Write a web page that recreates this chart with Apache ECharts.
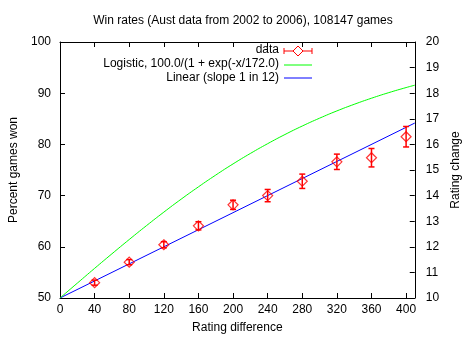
<!DOCTYPE html>
<html>
<head>
<meta charset="utf-8">
<script src="https://cdn.jsdelivr.net/npm/echarts@6/dist/echarts.min.js"></script>
<style>
  html, body { margin: 0; padding: 0; background: #fff; }
  #chart { width: 470px; height: 341px; }
</style>
</head>
<body>
<div id="chart"></div>
<script>
// Rating difference of each measured bucket
var ratingDiff = [40, 80, 120, 160, 200, 240, 280, 320, 360, 400];
// Observed win percentage per bucket
var winPct = [53.0, 57.0, 60.4, 64.1, 68.2, 70.0, 72.8, 76.6, 77.4, 81.5];
// Half-length of each error bar, in percent
var winErr = [0.5, 0.5, 0.6, 0.8, 0.9, 1.2, 1.4, 1.5, 1.8, 2.0];

// Logistic curve samples, 100/(1+exp(-x/172))
var logisticX = [0, 20, 40, 60, 80, 100, 120, 140, 160, 180, 200, 220, 240, 260, 280, 300, 320, 340, 360, 380, 400, 410];
var logisticY = [50.0, 52.9, 55.79, 58.63, 61.42, 64.14, 66.77, 69.30, 71.71, 74.01, 76.19, 78.23, 80.14, 81.93, 83.59, 85.12, 86.54, 87.83, 89.02, 90.11, 91.10, 91.56];

// Linear line, slope 1 in 12
var linearX = [0, 410];
var linearY = [50.0, 84.17];

var legendNames = ['data', 'Logistic, 100.0/(1 + exp(-x/172.0)', 'Linear (slope 1 in 12)'];

var FONT = '"Liberation Sans", Arial, sans-serif';
var RED = '#ff0000', GREEN = '#00ff00', BLUE = '#0000ff';

function zip(a, b) { return a.map(function (v, i) { return [v, b[i]]; }); }

var chart = echarts.init(document.getElementById('chart'), null, { renderer: 'canvas' });

var tickStyle = { show: true, inside: true, length: 5, lineStyle: { color: '#000', width: 1 } };
var labelStyle = { color: '#000', fontSize: 12, fontFamily: FONT };

var option = {
  animation: false,
  backgroundColor: '#fff',
  title: {
    text: 'Win rates (Aust data from 2002 to 2006), 108147 games',
    left: 238, top: 10, textAlign: 'center',
    textStyle: { fontSize: 12, fontWeight: 'normal', color: '#000', fontFamily: FONT }
  },
  grid: { left: 60, right: 52, top: 42, bottom: 43, containLabel: false },
  xAxis: [{
    type: 'value', min: 0, max: 410, interval: 40, position: 'bottom',
    name: 'Rating difference', nameLocation: 'middle', nameGap: 24,
    nameTextStyle: labelStyle,
    axisLine: { show: true, onZero: false, lineStyle: { color: '#000', width: 1 } },
    axisTick: tickStyle,
    axisLabel: Object.assign({ margin: 6, showMaxLabel: false }, labelStyle),
    splitLine: { show: false }
  }, {
    type: 'value', min: 0, max: 410, interval: 40, position: 'top',
    axisLine: { show: true, onZero: false, lineStyle: { color: '#000', width: 1 } },
    axisTick: tickStyle,
    axisLabel: { show: false },
    splitLine: { show: false }
  }],
  yAxis: [{
    type: 'value', min: 50, max: 100, interval: 10, position: 'left',
    name: 'Percent games won', nameLocation: 'middle', nameGap: 36, nameRotate: 90,
    nameTextStyle: labelStyle,
    axisLine: { show: true, onZero: false, lineStyle: { color: '#000', width: 1 } },
    axisTick: tickStyle,
    axisLabel: Object.assign({ margin: 9 }, labelStyle),
    splitLine: { show: false }
  }, {
    type: 'value', min: 10, max: 20, interval: 1, position: 'right',
    name: 'Rating change', nameLocation: 'middle', nameGap: 33, nameRotate: 90,
    nameTextStyle: labelStyle,
    axisLine: { show: true, onZero: false, lineStyle: { color: '#000', width: 1 } },
    axisTick: tickStyle,
    axisLabel: Object.assign({ margin: 11 }, labelStyle),
    splitLine: { show: false }
  }],
  series: [{
    name: legendNames[2], type: 'line', data: zip(linearX, linearY),
    showSymbol: false, symbol: 'none',
    lineStyle: { color: BLUE, width: 1 }, z: 2
  }, {
    name: legendNames[1], type: 'line', data: zip(logisticX, logisticY),
    showSymbol: false, symbol: 'none', smooth: true,
    lineStyle: { color: GREEN, width: 1 }, z: 2
  }, {
    name: 'errorbars', type: 'custom',
    data: ratingDiff.map(function (x, i) { return [x, winPct[i], winErr[i]]; }),
    renderItem: function (params, api) {
      var x = api.value(0), y = api.value(1), e = api.value(2);
      var top = api.coord([x, y + e]);
      var bot = api.coord([x, y - e]);
      var cap = 3;
      var style = { stroke: RED, lineWidth: 1.5 };
      return {
        type: 'group',
        children: [
          { type: 'line', shape: { x1: top[0], y1: top[1], x2: bot[0], y2: bot[1] }, style: style },
          { type: 'line', shape: { x1: top[0] - cap, y1: top[1], x2: top[0] + cap, y2: top[1] }, style: style },
          { type: 'line', shape: { x1: bot[0] - cap, y1: bot[1], x2: bot[0] + cap, y2: bot[1] }, style: style }
        ]
      };
    },
    z: 3
  }, {
    name: legendNames[0], type: 'scatter', data: zip(ratingDiff, winPct),
    symbol: 'diamond', symbolSize: [10, 10],
    itemStyle: { color: 'rgba(0,0,0,0)', borderColor: RED, borderWidth: 1.2 },
    z: 4
  }],
  graphic: [
    // key entries, text right-aligned with the sample to its right
    { type: 'text', left: null, x: 279, y: 50, style: { text: legendNames[0], textAlign: 'right', textVerticalAlign: 'middle', font: '12px ' + FONT, fill: '#000' } },
    { type: 'text', x: 279, y: 64, style: { text: legendNames[1], textAlign: 'right', textVerticalAlign: 'middle', font: '12px ' + FONT, fill: '#000' } },
    { type: 'text', x: 279, y: 78, style: { text: legendNames[2], textAlign: 'right', textVerticalAlign: 'middle', font: '12px ' + FONT, fill: '#000' } },
    { type: 'line', shape: { x1: 284, y1: 51, x2: 312, y2: 51 }, style: { stroke: RED, lineWidth: 1 } },
    { type: 'line', shape: { x1: 284, y1: 48, x2: 284, y2: 54 }, style: { stroke: RED, lineWidth: 1 } },
    { type: 'line', shape: { x1: 312, y1: 48, x2: 312, y2: 54 }, style: { stroke: RED, lineWidth: 1 } },
    { type: 'polygon', shape: { points: [[298, 46], [303, 51], [298, 56], [293, 51]] }, style: { fill: '#fff', stroke: RED, lineWidth: 1 } },
    { type: 'line', shape: { x1: 284, y1: 65, x2: 312, y2: 65 }, style: { stroke: GREEN, lineWidth: 1 } },
    { type: 'line', shape: { x1: 284, y1: 78, x2: 312, y2: 78 }, style: { stroke: BLUE, lineWidth: 1 } }
  ]
};

chart.setOption(option);
</script>
</body>
</html>
